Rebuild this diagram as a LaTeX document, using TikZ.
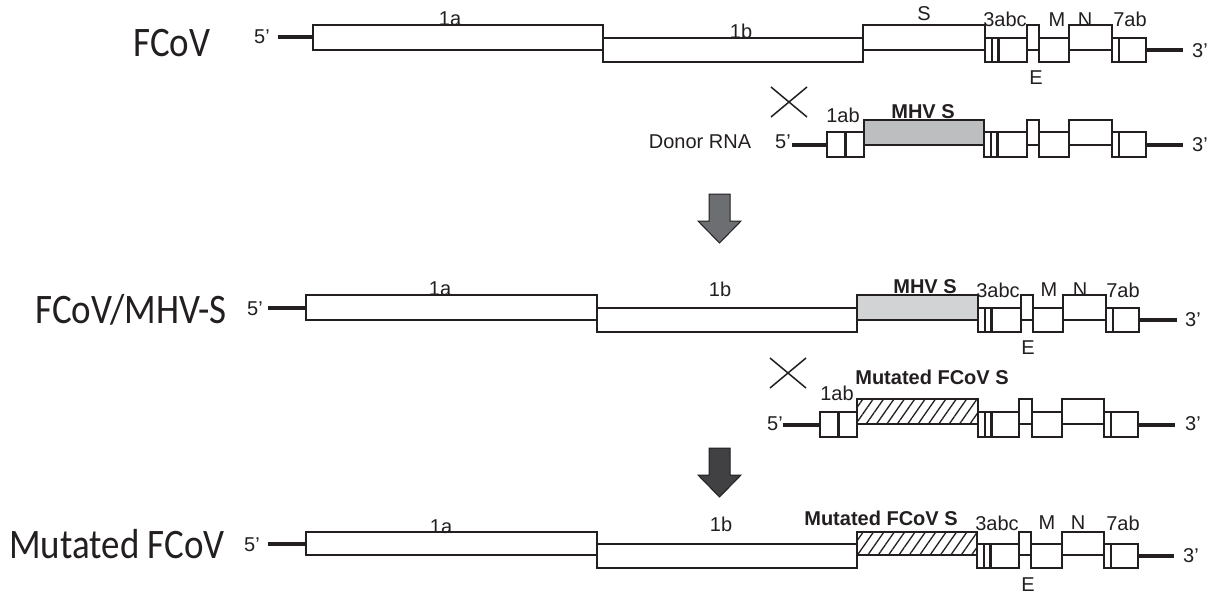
\documentclass[tikz,border=0pt]{standalone}
\usepackage{fontspec}
\setmainfont{Liberation Sans}
\newfontfamily\bigfont{Carlito}[FakeStretch=0.88]
\usetikzlibrary{patterns.meta}
\definecolor{ink}{HTML}{231F20}
\definecolor{mhvA}{HTML}{BCBEC0}
\definecolor{mhvB}{HTML}{D1D3D4}
\definecolor{arrA}{HTML}{6D6E71}
\definecolor{arrB}{HTML}{414042}
\tikzset{
 gbox/.style={draw=ink, line width=1.5pt, inner sep=0pt, outer sep=0pt},
 endline/.style={draw=ink, line width=4pt},
 lbl/.style={font=\fontsize{20}{20}\selectfont, text=ink, inner sep=0pt},
 blbl/.style={font=\bfseries\fontsize{20}{20}\selectfont, text=ink, inner sep=0pt},
 biglbl/.style={font=\bigfont\fontsize{42}{42}\selectfont, text=ink, inner sep=0pt},
 hatchfill/.style={pattern={Lines[angle=55,distance=8.5pt,line width=1.3pt]}, pattern color=ink},
 thinbar/.style={draw=ink, line width=1.5pt},
 thickbar/.style={draw=ink, line width=2.5pt},
 crossline/.style={draw=ink, line width=1.5pt},
 bigarrow/.style={draw=ink, line width=1pt},
}
\newcommand\genebox[6][]{%
  \node[gbox,#1,minimum width={(#5-#3)*1pt},minimum height={(#6-#4)*1pt}] (#2) at ({(#3+#5)/2},{(#4+#6)/2}) {};}
\newcommand\threebars[1]{%
  \draw[thinbar] ([xshift=7pt]#1.north west) -- ([xshift=7pt]#1.south west);
  \draw[thickbar] ([xshift=13.5pt]#1.north west) -- ([xshift=13.5pt]#1.south west);}
\newcommand\sevenbar[1]{%
  \draw[thickbar] ([xshift=7pt]#1.north west) -- ([xshift=7pt]#1.south west);}
\newcommand\midbar[1]{%
  \draw[thickbar] (#1.north) -- (#1.south);}
\begin{document}
\begin{tikzpicture}[x=1pt,y=-1pt]
\fill[white] (0,0) rectangle (1210,594);
\useasboundingbox (0,0) rectangle (1210,594);

% ---------- Row 1: FCoV ----------
\genebox{a1}{313}{25}{603}{50}
\genebox{b1}{603}{38}{863}{62}
\genebox{s1}{863}{25}{985}{50}
\genebox{c1}{985}{38}{1027}{62}
\genebox{e1}{1027}{25}{1039}{50}
\genebox{m1}{1039}{38}{1069}{62}
\genebox{n1}{1069}{25}{1112}{50}
\genebox{g1}{1112}{38}{1146}{62}
\threebars{c1}
\sevenbar{g1}
\coordinate (p1) at (278,37.5);
\coordinate (q1) at (1183,50);
\draw[endline] (p1) -- (a1.west);
\draw[endline] (g1.east) -- (q1);
\node[biglbl] (t1) at (172,43) {FCoV};
\node[lbl] (f1) at (262,37) {5’};
\node[lbl] (l1a) at (450,19) {1a};
\node[lbl] (l1b) at (741,31) {1b};
\node[lbl] (l1s) at (924,14) {S};
\node[lbl] (l1c) at (1005,19.5) {3abc};
\node[lbl] (l1m) at (1057,19.5) {M};
\node[lbl] (l1n) at (1085,19.5) {N};
\node[lbl] (l1g) at (1130,19.5) {7ab};
\node[lbl] (l1e) at (1036,78) {E};
\node[lbl] (h1) at (1200,51) {3’};

% ---------- Row 2: donor RNA ----------
\coordinate (x2) at (789,102);
\draw[crossline] ([shift={(-18,-15)}]x2) -- ([shift={(18,15)}]x2);
\draw[crossline] ([shift={(-18,15)}]x2) -- ([shift={(18,-15)}]x2);
\genebox{h2}{827}{132}{864}{157}
\genebox[fill=mhvA]{s2}{864}{120}{984}{145}
\genebox{c2}{984}{132}{1027}{157}
\genebox{e2}{1027}{120}{1039}{145}
\genebox{m2}{1039}{132}{1069}{157}
\genebox{n2}{1069}{120}{1112}{145}
\genebox{g2}{1112}{132}{1146}{157}
\midbar{h2}
\threebars{c2}
\sevenbar{g2}
\coordinate (p2) at (792,144.5);
\coordinate (q2) at (1183,144.5);
\draw[endline] (p2) -- (h2.west);
\draw[endline] (g2.east) -- (q2);
\node[lbl] (t2) at (700,142) {Donor RNA};
\node[lbl] (f2) at (783,142) {5’};
\node[lbl] (l2h) at (843,115) {1ab};
\node[blbl] (l2s) at (923,111.5) {MHV S};
\node[lbl] (h2l) at (1200,145) {3’};

% ---------- Arrow 1 ----------
\filldraw[bigarrow, fill=arrA] (709,194) -- (730,194) -- (730,221) -- (741,221) -- (719.5,243) -- (698,221) -- (709,221) -- cycle;

% ---------- Row 3: FCoV/MHV-S ----------
\genebox{a3}{306}{295}{597}{320}
\genebox{b3}{597}{308}{857}{332}
\genebox[fill=mhvB]{s3}{857}{295}{978}{320}
\genebox{c3}{978}{308}{1021}{332}
\genebox{e3}{1021}{295}{1033}{320}
\genebox{m3}{1033}{308}{1063}{332}
\genebox{n3}{1063}{295}{1106}{320}
\genebox{g3}{1106}{308}{1139}{332}
\threebars{c3}
\sevenbar{g3}
\coordinate (p3) at (268,307.5);
\coordinate (q3) at (1177,320);
\draw[endline] (p3) -- (a3.west);
\draw[endline] (g3.east) -- (q3);
\node[biglbl] (t3) at (131,310) {FCoV/MHV-S};
\node[lbl] (f3) at (255,309) {5’};
\node[lbl] (l3a) at (440,289) {1a};
\node[lbl] (l3b) at (720,289) {1b};
\node[blbl] (l3s) at (925,287) {MHV S};
\node[lbl] (l3c) at (998,290) {3abc};
\node[lbl] (l3m) at (1049,290) {M};
\node[lbl] (l3n) at (1080,290) {N};
\node[lbl] (l3g) at (1123,290) {7ab};
\node[lbl] (l3e) at (1028,348) {E};
\node[lbl] (h3) at (1193,320) {3’};

% ---------- Row 4: mutated donor ----------
\coordinate (x4) at (788,373);
\draw[crossline] ([shift={(-18,-15)}]x4) -- ([shift={(18,15)}]x4);
\draw[crossline] ([shift={(-18,15)}]x4) -- ([shift={(18,-15)}]x4);
\genebox{h4}{820}{412}{857}{437}
\genebox[hatchfill]{s4}{857}{399}{978}{424}
\genebox{c4}{978}{412}{1019}{437}
\genebox{e4}{1019}{399}{1032}{424}
\genebox{m4}{1032}{412}{1062}{437}
\genebox{n4}{1062}{399}{1104}{424}
\genebox{g4}{1104}{412}{1138}{437}
\midbar{h4}
\threebars{c4}
\sevenbar{g4}
\coordinate (p4) at (783,424.5);
\coordinate (q4) at (1175,424.5);
\draw[endline] (p4) -- (h4.west);
\draw[endline] (g4.east) -- (q4);
\node[blbl] (l4s) at (932,377) {Mutated FCoV S};
\node[lbl] (l4h) at (837,393) {1ab};
\node[lbl] (f4) at (775,424) {5’};
\node[lbl] (h4l) at (1193,424) {3’};

% ---------- Arrow 2 ----------
\filldraw[bigarrow, fill=arrB] (709,448) -- (730,448) -- (730,475) -- (741,475) -- (719.5,497) -- (698,475) -- (709,475) -- cycle;

% ---------- Row 5: Mutated FCoV ----------
\genebox{a5}{306}{532}{597}{555}
\genebox{b5}{597}{544}{857}{568}
\genebox[hatchfill]{s5}{857}{532}{977}{555}
\genebox{c5}{977}{544}{1019}{568}
\genebox{e5}{1019}{532}{1031}{555}
\genebox{m5}{1031}{544}{1062}{568}
\genebox{n5}{1062}{532}{1104}{555}
\genebox{g5}{1104}{544}{1138}{568}
\threebars{c5}
\sevenbar{g5}
\coordinate (p5) at (268,543.5);
\coordinate (q5) at (1174,556);
\draw[endline] (p5) -- (a5.west);
\draw[endline] (g5.east) -- (q5);
\node[biglbl] (t5) at (117,544) {Mutated FCoV};
\node[lbl] (f5) at (252,545) {5’};
\node[lbl] (l5a) at (441,527) {1a};
\node[lbl] (l5b) at (721,524) {1b};
\node[blbl] (l5s) at (881,518) {Mutated FCoV S};
\node[lbl] (l5c) at (997,523) {3abc};
\node[lbl] (l5m) at (1047,523) {M};
\node[lbl] (l5n) at (1078,523) {N};
\node[lbl] (l5g) at (1123,523) {7ab};
\node[lbl] (l5e) at (1028,585) {E};
\node[lbl] (h5) at (1191,556) {3’};
\end{tikzpicture}
\end{document}
